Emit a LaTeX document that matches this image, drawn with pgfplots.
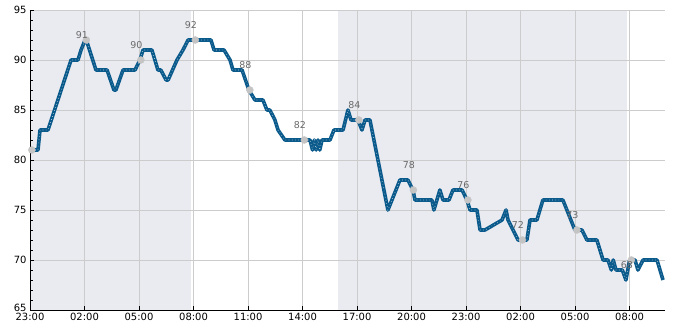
\documentclass[border=0pt]{standalone}
\usepackage{fontspec}
\setmainfont{DejaVu Sans}
\usepackage{pgfplots}
\pgfplotsset{compat=1.18}
\usepackage{pgfplotstable}
\definecolor{linec}{HTML}{0B5A8C}
\definecolor{shade}{HTML}{EAEBF1}
\definecolor{gridc}{HTML}{CCCCCC}
\definecolor{dotc}{HTML}{C4C4C4}
\definecolor{labc}{HTML}{6A6A6A}

\pgfplotstableread{
h v
0.11 81
0.44 81
0.55 83
0.99 83
2.26 90
2.64 90
2.81 91
3.03 92
3.10 92
3.63 89
4.24 89
4.62 87
4.73 87
5.12 89
5.78 89
6.05 90
6.22 91
6.71 91
7.04 89
7.20 89
7.49 88
7.60 88
8.09 90
8.42 91
8.70 92
9.96 92
10.13 91
10.68 91
11.01 90
11.17 89
11.67 89
12.05 87
12.38 86
12.82 86
13.04 85
13.20 85
13.48 84
13.65 83
14.03 82
15.41 82
15.55 81
15.65 82
15.75 81
15.85 82
15.95 81
16.07 82
16.51 82
16.73 83
17.23 83
17.50 85
17.67 84
18.05 84
18.27 83
18.44 84
18.71 84
19.70 75
20.36 78
20.80 78
21.08 77
21.19 76
22.12 76
22.23 75
22.56 77
22.73 76
23.06 76
23.28 77
23.78 77
24.05 76
24.22 75
24.60 75
24.77 73
25.04 73
25.98 74
26.20 75
26.31 74
26.86 72
27.35 72
27.52 74
27.90 74
28.23 76
29.33 76
29.99 73
30.38 73
30.65 72
31.20 72
31.54 70
31.81 70
32.00 69
32.10 70
32.25 69
32.60 69
32.80 68
33.00 70
33.30 70
33.46 69
33.74 70
34.51 70
34.84 68
}\series

\pgfplotstableread{
h v
0.10 81
3.10 92
6.10 90
9.10 92
12.10 87
15.10 82
18.10 84
21.10 77
24.10 76
27.10 72
30.10 73
33.10 70
}\dots

\pgfplotstableread{
h v lab
2.85 91 91
5.85 90 90
8.85 92 92
11.85 88 88
14.85 82 82
17.85 84 84
20.85 78 78
23.85 76 76
26.85 72 72
29.85 73 73
32.85 68 68
}\labels

\begin{document}
\begin{tikzpicture}
\begin{axis}[
  set layers,
  scale only axis, width=635bp, height=300bp,
  xmin=0, xmax=34.95, ymin=65, ymax=95,
  axis lines*=left,
  axis line style={black, line width=0.9bp},
  xtick={0,3,...,33},
  xticklabels={23:00,02:00,05:00,08:00,11:00,14:00,17:00,20:00,23:00,02:00,05:00,08:00},
  ytick={65,70,...,95},
  yticklabels={\raisebox{4bp}{65},70,75,80,85,90,95},
  minor ytick={66,...,94},
  tick align=inside,
  major tick length=4bp, minor tick length=2.5bp,
  tick style={black, line width=0.8bp},
  grid=major, major grid style={gridc, line width=0.8bp},
  ticklabel style={font=\fontsize{10}{12}\selectfont},
  /pgf/number format/assume math mode=true,
]
\addplot[fill=shade, draw=none, on layer=axis background] coordinates {(0,65)(0,95)(8.84,95)(8.84,65)};
\addplot[fill=shade, draw=none, on layer=axis background] coordinates {(16.95,65)(16.95,95)(32.87,95)(32.87,65)};
\addplot[linec, line width=3.6bp, line join=round, mark=none] table[x=h,y=v] {\series};
\addplot[white, line width=0.6bp, dash pattern=on 0.6bp off 2.6bp, opacity=0.75, mark=none] table[x=h,y=v] {\series};
\addplot[only marks, mark=*, mark size=3.5bp, mark options={fill=dotc, draw=dotc}] table[x=h,y=v] {\dots};
\addplot[draw=none, mark=none, point meta=explicit symbolic,
  nodes near coords={\pgfplotspointmeta},
  nodes near coords style={anchor=center, yshift=15bp, text=labc, font=\fontsize{9.5}{11}\selectfont}]
  table[x=h,y=v,meta=lab] {\labels};
\end{axis}
\pgfresetboundingbox
\path[use as bounding box] ([xshift=-30bp,yshift=-20bp]current axis.south west) rectangle ([xshift=20bp,yshift=10bp]current axis.north east);
\end{tikzpicture}
\end{document}
